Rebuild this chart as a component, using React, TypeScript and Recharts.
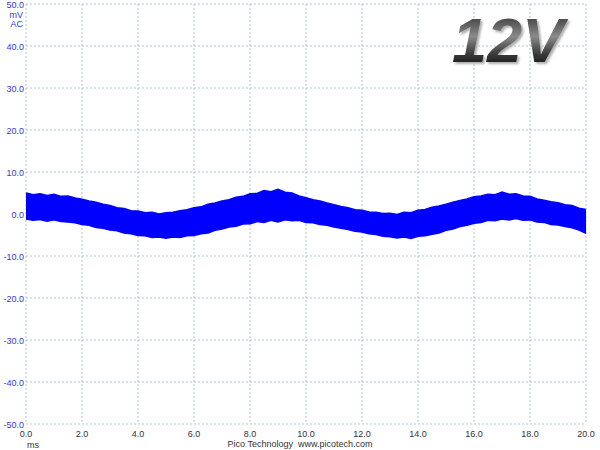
import { ComposedChart, CartesianGrid, XAxis, YAxis, Area } from "recharts";

// sample times (ms)
const timeMs = [
  0, 0.25, 0.5, 0.75, 1, 1.25, 1.5, 1.75, 2, 2.25, 2.5, 2.75, 3, 3.25, 3.5, 3.75,
  4, 4.25, 4.5, 4.75, 5, 5.25, 5.5, 5.75, 6, 6.25, 6.5, 6.75, 7, 7.25, 7.5, 7.75,
  8, 8.25, 8.5, 8.75, 9, 9.25, 9.5, 9.75, 10, 10.25, 10.5, 10.75, 11, 11.25, 11.5,
  11.75, 12, 12.25, 12.5, 12.75, 13, 13.25, 13.5, 13.75, 14, 14.25, 14.5, 14.75,
  15, 15.25, 15.5, 15.75, 16, 16.25, 16.5, 16.75, 17, 17.25, 17.5, 17.75, 18,
  18.25, 18.5, 18.75, 19, 19.25, 19.5, 19.75, 20,
];

// top edge of the noisy trace (mV)
const upperMv = [
  5.0, 4.6, 4.8, 4.4, 4.7, 4.2, 4.3, 3.8, 3.5, 3.1, 2.8, 2.3, 2.0, 1.5, 1.3, 0.8,
  0.7, 0.3, 0.4, 0.0, 0.3, 0.4, 0.8, 1.0, 1.5, 1.7, 2.3, 2.6, 3.1, 3.4, 4.0, 4.2,
  4.8, 4.9, 5.6, 5.3, 5.9, 5.2, 5.0, 4.3, 3.9, 3.4, 3.1, 2.6, 2.2, 1.8, 1.5, 1.0,
  0.9, 0.5, 0.4, 0.1, 0.2, -0.1, 0.4, 0.3, 0.9, 1.1, 1.6, 1.9, 2.3, 2.8, 3.2, 3.6,
  4.1, 4.3, 4.7, 4.6, 5.2, 4.7, 4.8, 4.3, 4.2, 3.6, 3.3, 2.9, 2.7, 2.2, 2.0, 1.4,
  1.1,
];

// bottom edge of the noisy trace (mV)
const lowerMv = [
  -1.2, -1.5, -1.3, -1.7, -1.4, -1.8, -1.9, -2.1, -2.5, -2.7, -3.2, -3.4, -3.8,
  -4.0, -4.5, -4.7, -5.1, -5.2, -5.6, -5.5, -5.8, -5.5, -5.6, -5.2, -5.1, -4.7,
  -4.5, -3.9, -3.6, -3.1, -2.9, -2.4, -2.3, -1.8, -2.0, -1.5, -1.9, -1.4, -1.6,
  -1.5, -2.0, -2.1, -2.5, -2.7, -3.1, -3.4, -3.7, -4.1, -4.3, -4.7, -4.9, -5.3,
  -5.4, -5.7, -5.5, -5.8, -5.3, -5.2, -4.8, -4.5, -3.9, -3.6, -3.0, -2.7, -2.2,
  -2.0, -1.5, -1.6, -1.2, -1.4, -1.1, -1.5, -1.4, -1.9, -2.0, -2.5, -2.6, -3.0,
  -3.3, -3.8, -4.6,
];

const xTicks = [0, 2, 4, 6, 8, 10, 12, 14, 16, 18, 20];
const yTicks = [-50, -40, -30, -20, -10, 0, 10, 20, 30, 40, 50];

const data = timeMs.map((t, i) => ({ t, band: [lowerMv[i], upperMv[i]] }));

const FONT = "'Liberation Sans', Arial, sans-serif";

const YTick = ({ x, y, payload }: any) => (
  <g>
    <text x={x} y={y} dy={3.5} textAnchor="end" fontSize={9} fontFamily={FONT} fill="#3838c8">
      {payload.value.toFixed(1)}
    </text>
    {payload.value === 50 && (
      <>
        <text x={x - 1} y={y + 14} textAnchor="end" fontSize={9} fontFamily={FONT} fill="#3838c8">
          mV
        </text>
        <text x={x - 1} y={y + 23} textAnchor="end" fontSize={9} fontFamily={FONT} fill="#3838c8">
          AC
        </text>
      </>
    )}
  </g>
);

const XTick = ({ x, y, payload }: any) => (
  <g>
    <text x={x} y={y + 11} textAnchor="middle" fontSize={9} fontFamily={FONT} fill="#333">
      {payload.value.toFixed(1)}
    </text>
    {payload.value === 0 && (
      <text x={x + 1} y={y + 22} textAnchor="start" fontSize={9} fontFamily={FONT} fill="#333">
        ms
      </text>
    )}
  </g>
);

export default function App() {
  return (
    <div style={{ position: "absolute", left: 0, top: 0, width: 600, height: 450, background: "#fff" }}>
      <ComposedChart
        width={600}
        height={450}
        data={data}
        margin={{ top: 4, right: 14, left: 0, bottom: 0 }}
      >
        <CartesianGrid stroke="#a9c9d6" strokeDasharray="2 2" />
        <XAxis
          dataKey="t"
          type="number"
          domain={[0, 20]}
          ticks={xTicks}
          axisLine={false}
          tickLine={false}
          tickSize={0}
          height={26}
          interval={0}
          tick={<XTick />}
        />
        <YAxis
          type="number"
          domain={[-50, 50]}
          ticks={yTicks}
          axisLine={false}
          tickLine={false}
          tickSize={0}
          tickMargin={2}
          width={26}
          interval={0}
          tick={<YTick />}
        />
        <Area
          type="linear"
          dataKey="band"
          stroke="#0000ff"
          strokeWidth={1.5}
          fill="#0000ff"
          fillOpacity={1}
          dot={false}
          activeDot={false}
          isAnimationActive={false}
        />
      </ComposedChart>
      <svg
        width={600}
        height={450}
        style={{ position: "absolute", left: 0, top: 0, pointerEvents: "none" }}
      >
        <defs>
          <linearGradient id="metal" x1="0" y1="0" x2="0" y2="1">
            <stop offset="0%" stopColor="#1a1a1a" />
            <stop offset="45%" stopColor="#8a8a8a" />
            <stop offset="70%" stopColor="#3a3a3a" />
            <stop offset="100%" stopColor="#000" />
          </linearGradient>
          <filter id="shade" x="-10%" y="-10%" width="130%" height="140%">
            <feDropShadow dx="2" dy="2" stdDeviation="1" floodColor="#999" floodOpacity="0.8" />
          </filter>
        </defs>
        <text
          x={452}
          y={62}
          fontSize={63}
          fontWeight="bold"
          fontStyle="italic"
          fontFamily={FONT}
          fill="url(#metal)"
          filter="url(#shade)"
        >
          12V
        </text>
        <text x={300} y={446.5} textAnchor="middle" fontSize={9} fontFamily={FONT} fill="#333" xmlSpace="preserve">
          Pico Technology  www.picotech.com
        </text>
      </svg>
    </div>
  );
}
